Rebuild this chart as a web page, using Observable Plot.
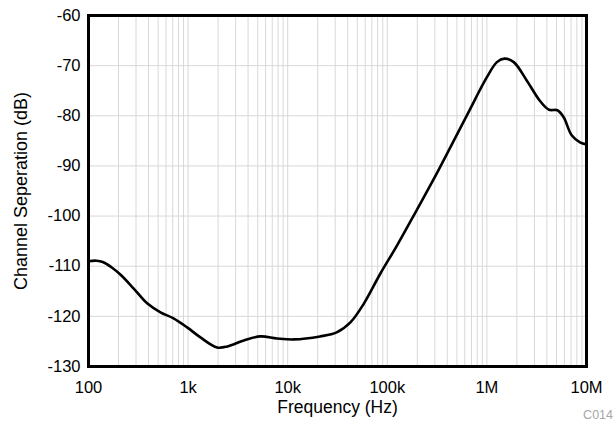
<!DOCTYPE html>
<html>
<head>
<meta charset="utf-8">
<script src="https://cdn.jsdelivr.net/npm/d3@7"></script>
<script src="https://cdn.jsdelivr.net/npm/@observablehq/plot@0.6"></script>
<style>
  html, body { margin: 0; padding: 0; background: #fff; }
  #chart { position: relative; width: 614px; height: 422px; }
  #code { position: absolute; right: 1px; top: 408px; font: 12.5px "Liberation Sans", Arial, sans-serif; color: #a6a6a6; }
</style>
</head>
<body>
<div id="chart"></div>
<script>
const freqHz = [100, 120, 141, 170, 210, 283, 388, 528, 714, 978, 1330, 1956, 2480, 3630, 5310, 7800, 11500, 21100, 31000, 42600, 58000, 85000, 125000, 200000, 293000, 630000, 1000000, 1260000, 1500000, 1860000, 2520000, 3400000, 4200000, 5100000, 5900000, 7100000, 8600000, 10000000];
const separationDb = [-109, -108.9, -109.2, -110.2, -111.7, -114.4, -117.4, -119.2, -120.4, -122.2, -124.2, -126.2, -126, -124.8, -124, -124.4, -124.6, -124, -123.2, -121.2, -117.5, -111.5, -105.9, -98.6, -92.6, -79.9, -72.3, -69.3, -68.6, -69.3, -73, -77, -78.8, -78.9, -80.3, -83.9, -85.3, -85.7];
const xTickValues = [100, 1000, 10000, 100000, 1000000, 10000000];
const xTickLabels = ["100", "1k", "10k", "100k", "1M", "10M"];
const yTickValues = [-60, -70, -80, -90, -100, -110, -120, -130];

const data = freqHz.map((f, i) => ({f, db: separationDb[i]}));
const gridX = [];
for (let d = 100; d < 1e7; d *= 10) for (let m = 1; m <= 9; m++) gridX.push(d * m);
gridX.push(1e7);

const chart = Plot.plot({
  width: 614,
  height: 422,
  marginLeft: 88,
  marginRight: 28,
  marginTop: 15,
  marginBottom: 56,
  style: {fontFamily: "'Liberation Sans', Arial, sans-serif", fontSize: "16.5px", color: "#000", background: "#fff"},
  x: {type: "log", domain: [100, 1e7]},
  y: {domain: [-130, -60]},
  marks: [
    Plot.ruleX(gridX, {stroke: "#d8d8d8", strokeWidth: 1}),
    Plot.ruleY(yTickValues, {stroke: "#d8d8d8", strokeWidth: 1}),
    Plot.line(data, {x: "f", y: "db", stroke: "#000", strokeWidth: 2.6, curve: "catmull-rom"}),
    Plot.frame({stroke: "#000", strokeWidth: 3}),
    Plot.axisX({ticks: xTickValues, tickFormat: d => xTickLabels[xTickValues.indexOf(d)], tickSize: 0, tickPadding: 15, fontSize: 16.5,
      label: null}),
    Plot.axisX({ticks: [], tickSize: 0, fontSize: 17.5,
      label: "Frequency (Hz)", labelAnchor: "center", labelArrow: "none", labelOffset: 46}),
    Plot.axisY({ticks: yTickValues, tickSize: 0, tickPadding: 8, fontSize: 16.5, tickFormat: d => String(d),
      label: null}),
    Plot.axisY({ticks: [], tickSize: 0, fontSize: 18,
      label: "Channel Seperation (dB)", labelAnchor: "center", labelArrow: "none", labelOffset: 74})
  ]
});
document.getElementById("chart").appendChild(chart);
const c = document.createElement("div");
c.id = "code"; c.textContent = "C014";
document.getElementById("chart").appendChild(c);
</script>
</body>
</html>
